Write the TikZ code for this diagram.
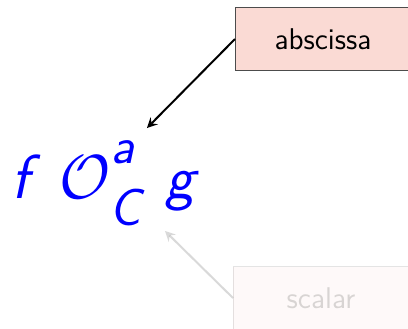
\documentclass[tikz,border=0pt]{standalone}
\usepackage{amsmath}
\DeclareMathAlphabet{\mathsfsl}{OT1}{cmss}{m}{sl}
\definecolor{boxfill}{RGB}{250,218,212}
\begin{document}
\begin{tikzpicture}[x = 0.4pt, y = -0.4pt,
		labelbox/.style = {draw = black!70, fill = boxfill, minimum width = 70pt, minimum height = 25pt, font = \sffamily\fontsize{12}{14}\selectfont}]
		\useasboundingbox (0,0) rectangle (408,328);
		\clip (0,0) rectangle (408,328);
		\node [blue, anchor = base west, inner sep = 0pt, font = \fontsize{27.5}{32}\selectfont] (expr) at (11,198) {$\mathsfsl{f}\;\mathcal{O}^{\vphantom{(}\mathsfsl{a}}_{\vphantom{(}\mathsfsl{C}}\;\mathsfsl{g}$};
		\node [labelbox] (abscissa) at (323,39) {abscissa};
		\node [labelbox, opacity = 0.15] (scalar) at (321,298) {scalar};
		\coordinate (supA) at (147,128);
		\coordinate (subC) at (165,231);
		\draw [thick, -stealth] (abscissa.west) -- (supA);
		\draw [thick, -stealth, opacity = 0.15] (scalar.west) -- (subC);
	\end{tikzpicture}
\end{document}
